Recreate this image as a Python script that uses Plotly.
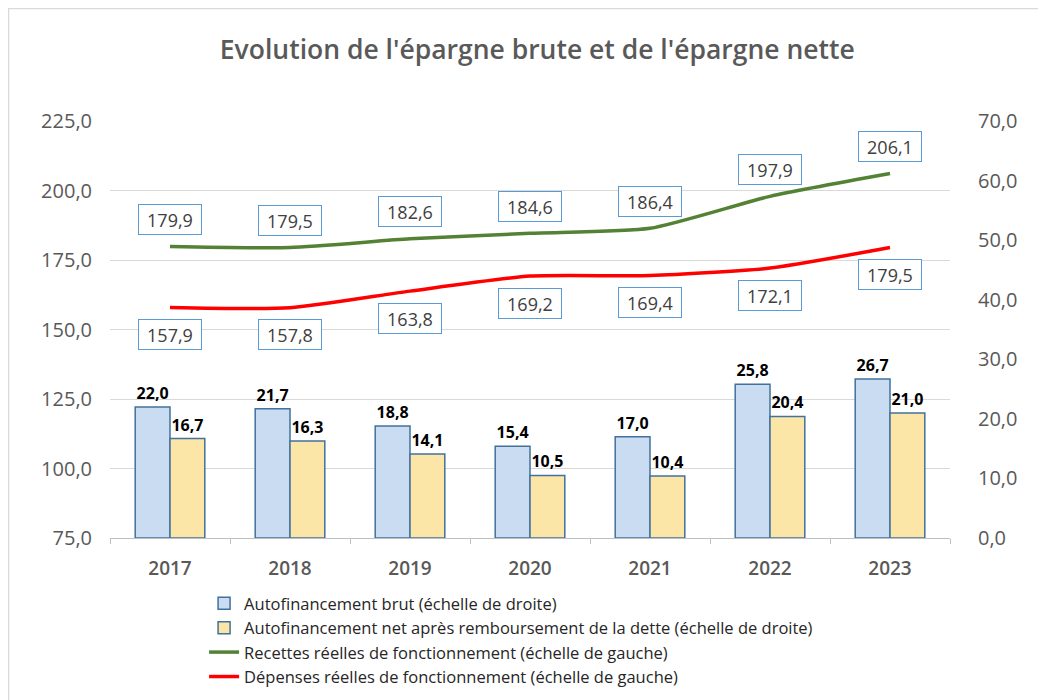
import plotly.graph_objects as go

years = ["2017", "2018", "2019", "2020", "2021", "2022", "2023"]
autofin_brut = [22.0, 21.7, 18.8, 15.4, 17.0, 25.8, 26.7]
autofin_net = [16.7, 16.3, 14.1, 10.5, 10.4, 20.4, 21.0]
recettes = [179.9, 179.5, 182.6, 184.6, 186.4, 197.9, 206.1]
depenses = [157.9, 157.8, 163.8, 169.2, 169.4, 172.1, 179.5]

FONT = "Open Sans, sans-serif"
GREY = "#595959"

fig = go.Figure()
fig.add_trace(go.Bar(
    x=years, y=autofin_brut, yaxis="y2",
    name="Autofinancement brut (échelle de droite)",
    marker=dict(color="#c9dcf2", line=dict(color="#41719c", width=1.5)),
    texttemplate="<b>%{y:.1f}</b>", textposition="outside",
    textfont=dict(size=16, color="#000000", family=FONT), cliponaxis=False,
))
fig.add_trace(go.Bar(
    x=years, y=autofin_net, yaxis="y2",
    name="Autofinancement net après remboursement de la dette (échelle de droite)",
    marker=dict(color="#fbe6a8", line=dict(color="#41719c", width=1.5)),
    texttemplate="<b>%{y:.1f}</b>", textposition="outside",
    textfont=dict(size=16, color="#000000", family=FONT), cliponaxis=False,
))
fig.add_trace(go.Scatter(
    x=years, y=recettes, yaxis="y", mode="lines",
    name="Recettes réelles de fonctionnement (échelle de gauche)",
    line=dict(color="#548235", width=3.5, shape="spline", smoothing=0.6),
))
fig.add_trace(go.Scatter(
    x=years, y=depenses, yaxis="y", mode="lines",
    name="Dépenses réelles de fonctionnement (échelle de gauche)",
    line=dict(color="#ff0000", width=3.5, shape="spline", smoothing=0.6),
))

def box(i, v, shift):
    return dict(x=i, y=v, xref="x", yref="y", text=f"{v:.1f}".replace(".", ","),
                showarrow=False, yshift=shift, bgcolor="white", bordercolor="#5b9bd5",
                borderwidth=1, borderpad=4, width=54, height=21,
                font=dict(size=18, color="#404040", family=FONT))

annotations = [box(i, v, 27) for i, v in enumerate(recettes)]
annotations += [box(i, v, -27) for i, v in enumerate(depenses)]

PL, PR, PT, PB = 102, 942, 113, 530  # plot area in figure pixels
PW, PH = PR - PL, PB - PT

fig.update_layout(
    width=1046, height=700,
    margin=dict(l=PL, r=1046 - PR, t=PT, b=700 - PB, autoexpand=False),
    paper_bgcolor="white", plot_bgcolor="white",
    separators=", ",
    font=dict(family=FONT, color=GREY, size=16),
    title=dict(text="Evolution de l'épargne brute et de l'épargne nette",
               x=0.506, xanchor="center", y=0.94, yanchor="middle",
               font=dict(size=26.5, color=GREY, family=FONT, weight=600)),
    barmode="group", bargap=0.42, bargroupgap=0,
    xaxis=dict(type="category", showline=True, linecolor="#bfbfbf", linewidth=1,
               ticks="outside", tickson="boundaries", ticklen=5, tickcolor="#bfbfbf",
               tickfont=dict(size=19, color=GREY, weight=600), showgrid=False,
               ticklabelstandoff=13),
    yaxis=dict(range=[75, 225], dtick=25, tickformat=".1f", showgrid=True,
               gridcolor="#d9d9d9", gridwidth=1, zeroline=False,
               tickfont=dict(size=20, color=GREY), ticks="", ticklabelstandoff=17),
    yaxis2=dict(range=[0, 70], dtick=10, tickformat=".1f", overlaying="y", side="right",
                showgrid=False, zeroline=False, tickfont=dict(size=20, color=GREY),
                ticklabelstandoff=27),
    legend=dict(orientation="v", x=0.112, xanchor="left", y=-0.115, yanchor="top",
                font=dict(size=16.5, color="#262626", family=FONT),
                tracegroupgap=0, itemwidth=30, bgcolor="rgba(0,0,0,0)"),
    annotations=annotations,
    shapes=[dict(type="rect", xref="paper", yref="paper",
                 x0=(0.5 - PL) / PW, x1=(1080 - PL) / PW,
                 y0=(PB - 720) / PH, y1=(PB - 0.5) / PH,
                 line=dict(color="#d9d9d9", width=1.5), layer="below")],
)

fig.write_html("out.html")
